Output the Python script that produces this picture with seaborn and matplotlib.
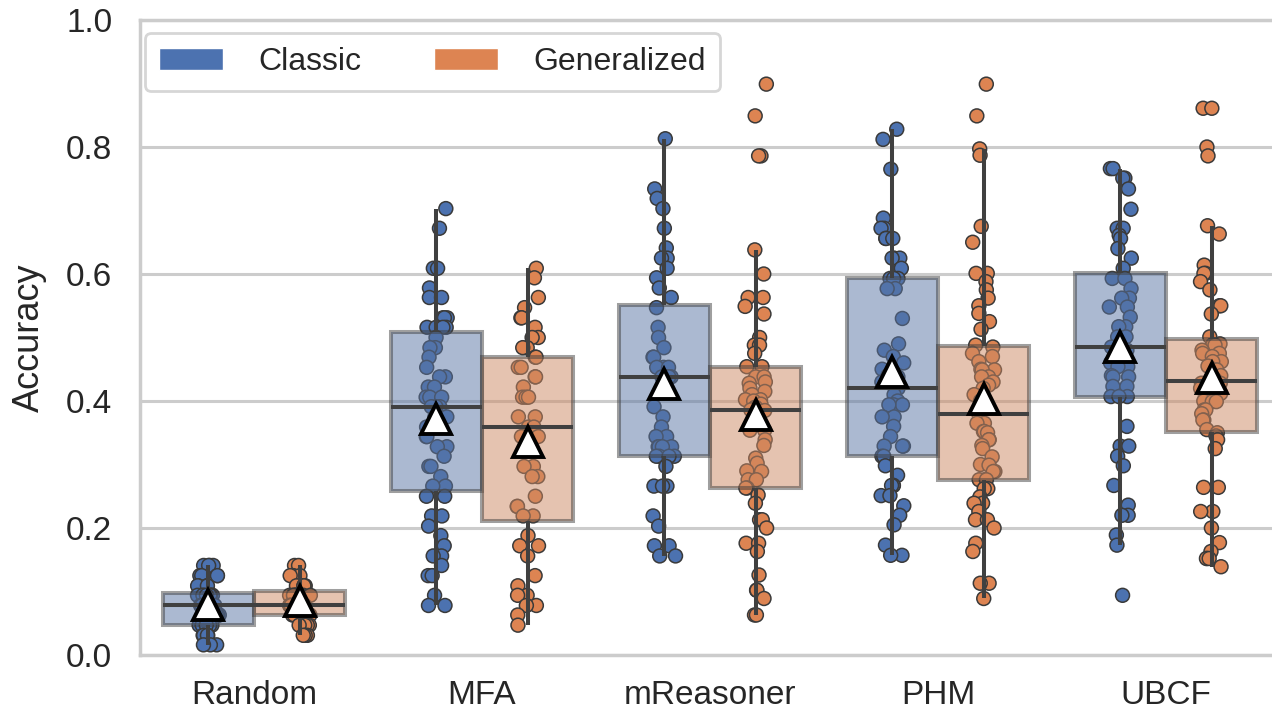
import numpy as np
import pandas as pd
import seaborn as sns
import matplotlib.pyplot as plt
from matplotlib.patches import Patch

# categories / hue levels
models = ["Random", "MFA", "mReasoner", "PHM", "UBCF"]
types = ["Classic", "Generalized"]

# accuracy per participant
random_classic = [0.141, 0.141, 0.141, 0.141, 0.125, 0.125, 0.125, 0.125, 0.109, 0.109, 0.109, 0.109,
                  0.094, 0.094, 0.094, 0.094, 0.094, 0.094, 0.094, 0.094,
                  0.078, 0.078, 0.078, 0.078, 0.078, 0.078, 0.078, 0.078, 0.078,
                  0.063, 0.063, 0.063, 0.063, 0.063, 0.063, 0.047, 0.047, 0.047, 0.047, 0.047, 0.047,
                  0.031, 0.031, 0.031, 0.031, 0.016, 0.016, 0.016]
random_general = [0.141, 0.141, 0.125, 0.125, 0.125, 0.125, 0.109, 0.109, 0.109, 0.109, 0.109, 0.109,
                  0.094, 0.094, 0.094, 0.094, 0.094, 0.094, 0.094, 0.094, 0.094, 0.094,
                  0.078, 0.078, 0.078, 0.078, 0.078, 0.078, 0.078, 0.078, 0.078, 0.078, 0.078, 0.078,
                  0.063, 0.063, 0.063, 0.063, 0.063, 0.063, 0.047, 0.047, 0.047, 0.047,
                  0.031, 0.031, 0.031]
mfa_classic = [0.703, 0.672, 0.609, 0.609, 0.578, 0.563, 0.563, 0.531, 0.531, 0.531,
               0.516, 0.516, 0.516, 0.516, 0.516, 0.5, 0.484, 0.484, 0.469, 0.453,
               0.438, 0.438, 0.422, 0.422, 0.406, 0.406, 0.406, 0.391, 0.391, 0.391,
               0.375, 0.375, 0.375, 0.359, 0.344, 0.344, 0.328, 0.328, 0.313, 0.297,
               0.297, 0.281, 0.266, 0.266, 0.25, 0.25, 0.219, 0.219, 0.203, 0.188,
               0.172, 0.156, 0.156, 0.141, 0.125, 0.125, 0.094, 0.078, 0.078]
mfa_general = [0.609, 0.594, 0.563, 0.547, 0.531, 0.531, 0.516, 0.5, 0.5, 0.484,
               0.484, 0.469, 0.469, 0.453, 0.453, 0.438, 0.438, 0.422, 0.406, 0.406,
               0.406, 0.375, 0.375, 0.359, 0.359, 0.344, 0.344, 0.297, 0.297, 0.281,
               0.281, 0.25, 0.234, 0.234, 0.219, 0.219, 0.188, 0.172, 0.172, 0.156,
               0.125, 0.109, 0.094, 0.094, 0.078, 0.078, 0.063, 0.047]
mreasoner_classic = [0.813, 0.734, 0.719, 0.703, 0.672, 0.641, 0.625, 0.625, 0.609, 0.594,
                     0.578, 0.563, 0.547, 0.516, 0.5, 0.484, 0.469, 0.469, 0.453, 0.453,
                     0.453, 0.438, 0.438, 0.438, 0.438, 0.391, 0.375, 0.359, 0.344, 0.344,
                     0.328, 0.328, 0.328, 0.328, 0.313, 0.313, 0.313, 0.313, 0.297, 0.266,
                     0.266, 0.266, 0.219, 0.203, 0.172, 0.172, 0.156, 0.156]
mreasoner_general = [0.899, 0.849, 0.786, 0.786, 0.638, 0.600, 0.563, 0.563, 0.549, 0.537,
                     0.500, 0.488, 0.488, 0.475, 0.454, 0.454, 0.438, 0.438, 0.43, 0.428,
                     0.42, 0.415, 0.41, 0.402, 0.402, 0.40, 0.395, 0.39, 0.39, 0.386,
                     0.386, 0.385, 0.370, 0.36, 0.354, 0.354, 0.339, 0.33, 0.31, 0.302,
                     0.29, 0.289, 0.276, 0.276, 0.263, 0.263, 0.252, 0.239, 0.213, 0.213,
                     0.200, 0.176, 0.176, 0.163, 0.126, 0.102, 0.102, 0.089, 0.063, 0.063]
phm_classic = [0.828, 0.812, 0.765, 0.688, 0.672, 0.672, 0.656, 0.656, 0.656, 0.625,
               0.625, 0.625, 0.609, 0.593, 0.593, 0.593, 0.577, 0.577, 0.53, 0.49,
               0.48, 0.47, 0.46, 0.45, 0.44, 0.438, 0.43, 0.42, 0.41, 0.40,
               0.394, 0.394, 0.394, 0.375, 0.375, 0.360, 0.344, 0.329, 0.329, 0.329,
               0.313, 0.313, 0.298, 0.283, 0.267, 0.267, 0.267, 0.251, 0.251, 0.235,
               0.220, 0.205, 0.173, 0.157, 0.157]
phm_general = [0.899, 0.849, 0.797, 0.787, 0.675, 0.65, 0.601, 0.601, 0.588, 0.575,
               0.562, 0.55, 0.538, 0.525, 0.513, 0.488, 0.485, 0.475, 0.47, 0.462,
               0.45, 0.449, 0.449, 0.438, 0.438, 0.43, 0.425, 0.42, 0.41, 0.40,
               0.39, 0.38, 0.365, 0.365, 0.352, 0.352, 0.35, 0.339, 0.339, 0.33,
               0.325, 0.312, 0.30, 0.299, 0.289, 0.289, 0.276, 0.276, 0.276, 0.262,
               0.262, 0.249, 0.239, 0.239, 0.226, 0.213, 0.213, 0.2, 0.176, 0.163,
               0.113, 0.113, 0.089]
ubcf_classic = [0.766, 0.766, 0.751, 0.751, 0.734, 0.702, 0.672, 0.672, 0.661, 0.656,
                0.640, 0.625, 0.609, 0.593, 0.593, 0.577, 0.562, 0.562, 0.548, 0.548,
                0.532, 0.517, 0.517, 0.501, 0.501, 0.485, 0.48, 0.47, 0.46, 0.454,
                0.454, 0.44, 0.438, 0.438, 0.423, 0.423, 0.407, 0.407, 0.407, 0.36,
                0.329, 0.329, 0.313, 0.298, 0.267, 0.236, 0.22, 0.22, 0.189, 0.173, 0.094]
ubcf_general = [0.861, 0.861, 0.8, 0.786, 0.676, 0.663, 0.614, 0.601, 0.601, 0.588,
                0.575, 0.55, 0.55, 0.537, 0.501, 0.49, 0.488, 0.488, 0.488, 0.48,
                0.475, 0.475, 0.47, 0.462, 0.462, 0.455, 0.449, 0.44, 0.435, 0.428,
                0.428, 0.42, 0.415, 0.412, 0.40, 0.399, 0.399, 0.386, 0.386, 0.38,
                0.37, 0.37, 0.355, 0.35, 0.345, 0.339, 0.325, 0.264, 0.264, 0.226,
                0.226, 0.2, 0.177, 0.163, 0.152, 0.152, 0.152, 0.139]

yticks = [0.0, 0.2, 0.4, 0.6, 0.8, 1.0]

groups = {
    ("Random", "Classic"): random_classic, ("Random", "Generalized"): random_general,
    ("MFA", "Classic"): mfa_classic, ("MFA", "Generalized"): mfa_general,
    ("mReasoner", "Classic"): mreasoner_classic, ("mReasoner", "Generalized"): mreasoner_general,
    ("PHM", "Classic"): phm_classic, ("PHM", "Generalized"): phm_general,
    ("UBCF", "Classic"): ubcf_classic, ("UBCF", "Generalized"): ubcf_general,
}
rows = []
for (m, t), vals in groups.items():
    for v in vals:
        rows.append({"Model": m, "Type": t, "Accuracy": v})
df = pd.DataFrame(rows)

sns.set_theme(style="whitegrid", palette="deep")
plt.rcParams["font.family"] = ["Liberation Sans", "DejaVu Sans"]
plt.rcParams["axes.edgecolor"] = "#cccccc"
plt.rcParams["axes.linewidth"] = 2.5
plt.rcParams["grid.linewidth"] = 2.2
plt.rcParams["grid.color"] = "#cccccc"

pal = sns.color_palette("deep")[:2]

fig = plt.figure(figsize=(12.72, 7.12), dpi=100)
ax = fig.add_axes([140 / 1272, 57 / 712, 1140 / 1272, 635 / 712])

np.random.seed(3)
sns.stripplot(data=df, x="Model", y="Accuracy", hue="Type", order=models, hue_order=types,
              palette=pal, dodge=True, jitter=True, size=10, linewidth=1.1,
              edgecolor="#3a3a3a", legend=False, ax=ax)
n_coll = len(ax.collections)

sns.boxplot(data=df, x="Model", y="Accuracy", hue="Type", order=models, hue_order=types,
            palette=pal, width=0.8, showfliers=False, showcaps=False, showmeans=True,
            linecolor="#404040", linewidth=2.9,
            boxprops={"alpha": 0.5},
            meanprops={"marker": "^", "markerfacecolor": "white", "markeredgecolor": "black",
                       "markersize": 21, "markeredgewidth": 2.8},
            legend=False, ax=ax)

# points under the boxes, boxes under the lines, means on top
for c in ax.collections[:n_coll]:
    c.set_zorder(1)
for p in ax.patches:
    p.set_zorder(2)
for c in ax.collections[n_coll:]:
    c.set_zorder(2)
for ln in ax.lines:
    ln.set_zorder(5 if ln.get_marker() == "^" else 3)

ax.set_ylim(0, 1.0)
ax.set_yticks(yticks)
ax.set_yticklabels([f"{t:.1f}" for t in yticks])
ax.set_xlabel("")
ax.set_ylabel("Accuracy", fontsize=26, labelpad=14)
ax.tick_params(axis="y", labelsize=24, pad=20, length=0)
ax.tick_params(axis="x", labelsize=24, pad=18, length=0)
ax.spines["right"].set_visible(False)
ax.xaxis.grid(False)

handles = [Patch(facecolor=pal[0], label="Classic"), Patch(facecolor=pal[1], label="Generalized")]
leg = ax.legend(handles=handles, loc="upper left", bbox_to_anchor=(0.004, 0.98), ncol=2,
                fontsize=23, frameon=True, handlelength=2.0, handleheight=0.65,
                handletextpad=1.1, columnspacing=2.3, borderaxespad=0, borderpad=0.45)
leg.get_frame().set_edgecolor("#cccccc")
leg.get_frame().set_linewidth(2)

fig.savefig("out.png", dpi=100)
